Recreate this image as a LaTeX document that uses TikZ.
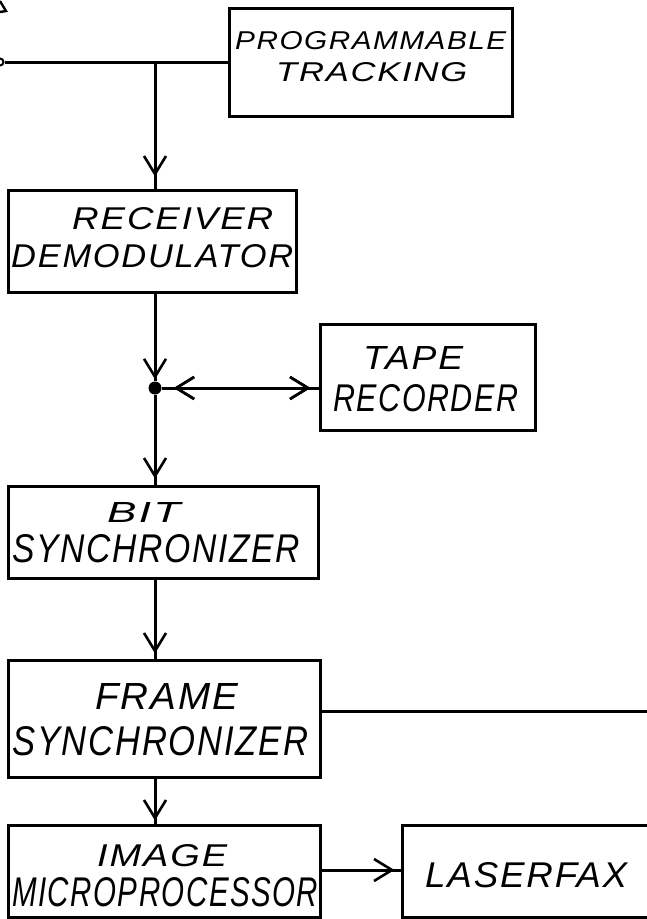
\documentclass[tikz,border=0pt]{standalone}
\usepackage{fontspec}
\setmainfont{Liberation Sans}
\usepackage{graphicx}
\usetikzlibrary{arrows.meta,decorations.markings}
\newcommand\hw[3]{\resizebox{#1pt}{#2pt}{\itshape\addfontfeature{LetterSpace=5}#3}}
\tikzset{
  blk/.style={draw, line width=3pt, rectangle, inner sep=0pt},
  lbl/.style={inner sep=0pt, anchor=south west},
  conn/.style={line width=3pt},
  barb/.tip={Straight Barb[length=18pt,width=22pt,line width=2.6pt]},
  arrat/.style={postaction={decorate}, decoration={markings, mark=at position #1 with {\arrow{barb}}}},
  arrback/.style={postaction={decorate}, decoration={markings, mark=at position #1 with {\arrowreversed{barb}}}},
}
\begin{document}
\begin{tikzpicture}[x=1pt,y=-1pt]
\useasboundingbox (0,0) rectangle (647,919);
% boxes
\node[blk, minimum width=283pt, minimum height=108pt] (PT) at (370.5,62) {};
\node[blk, minimum width=288pt, minimum height=102pt] (RD) at (152,241) {};
\node[blk, minimum width=215pt, minimum height=106pt] (TR) at (427.5,377) {};
\node[blk, minimum width=310pt, minimum height=92pt] (BS) at (163,532) {};
\node[blk, minimum width=312pt, minimum height=117pt] (FS) at (164,718.5) {};
\node[blk, minimum width=312pt, minimum height=92pt] (IM) at (164,871) {};
\node[blk, minimum width=258pt, minimum height=92pt] (LF) at (531,871) {};
% labels
\node[lbl] (t1) at (235,50) {\hw{271}{18}{PROGRAMMABLE}};
\node[lbl] (t2) at (276,82) {\hw{191}{19}{TRACKING}};
\node[lbl] (t3) at (72,230) {\hw{201}{22}{RECEIVER}};
\node[lbl] (t4) at (11,268) {\hw{282}{23}{DEMODULATOR}};
\node[lbl] (t5) at (363,370) {\hw{100}{23}{TAPE}};
\node[lbl] (t6) at (333,412) {\hw{185}{27}{RECORDER}};
\node[lbl] (t7) at (107,523) {\hw{73}{20}{BIT}};
\node[lbl] (t8) at (12,563) {\hw{288}{28}{SYNCHRONIZER}};
\node[lbl] (t9) at (95,710) {\hw{143}{26}{FRAME}};
\node[lbl] (t10) at (12,756) {\hw{296}{29}{SYNCHRONIZER}};
\node[lbl] (t11) at (97,867) {\hw{130}{22}{IMAGE}};
\node[lbl] (t12) at (12,907) {\hw{306}{29}{MICROPROCESSOR}};
\node[lbl] (t13) at (425,888) {\hw{202}{25}{LASERFAX}};
% antenna fragment and input
\coordinate (a1) at (0,1);
\coordinate (a2) at (6,11);
\coordinate (a3) at (0,12);
\draw[conn, line width=2.4pt] (a1) -- (a2) -- (a3);
\node[circle, draw, line width=2pt, minimum size=7pt, inner sep=0pt] (in) at (0,62) {};
\coordinate (j1) at (155,62);
\draw[conn] (in) -- (PT.west);
\draw[conn, arrat=-12pt] (j1) -- (j1 |- RD.north);
% junction dot
\node[circle, fill, inner sep=0pt, minimum size=13pt] (dot) at (155,388) {};
\draw[conn, arrat=-2pt] (j1 |- RD.south) -- (dot);
\draw[conn, arrat=-8pt, arrback=12pt] (dot) -- (dot -| TR.west);
\draw[conn, arrat=-6pt] (dot) -- (dot |- BS.north);
\draw[conn, arrat=-5pt] (dot |- BS.south) -- (dot |- FS.north);
\draw[conn, arrat=-3pt] (dot |- FS.south) -- (dot |- IM.north);
% frame sync output
\coordinate (fso) at (647,711);
\draw[conn] (fso -| FS.east) -- (fso);
% to laserfax
\coordinate (lfy) at (0,870);
\draw[conn, arrat=-6pt] (lfy -| IM.east) -- (lfy -| LF.west);
\end{tikzpicture}
\end{document}
